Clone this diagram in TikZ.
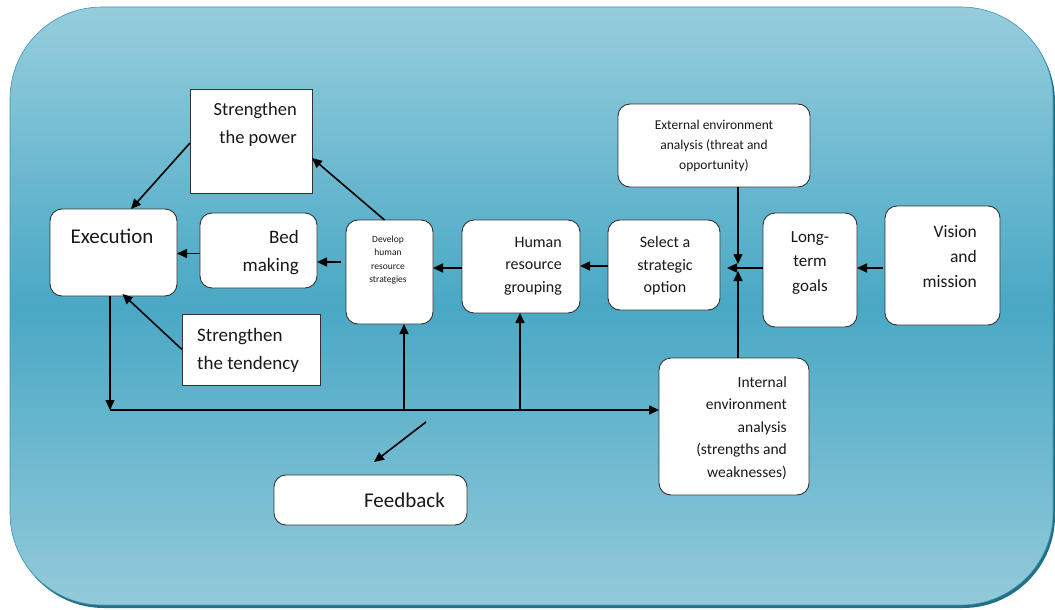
\documentclass[tikz,border=0pt]{standalone}
\usepackage{fontspec}
\setmainfont{Carlito}
\usetikzlibrary{arrows.meta,calc}
\definecolor{bgtop}{RGB}{150,205,221}
\definecolor{bgmid}{RGB}{73,168,197}
\definecolor{bgbot}{RGB}{147,202,218}
\definecolor{bgshadow}{RGB}{34,112,132}
\definecolor{bgedge}{RGB}{60,150,178}
\tikzset{
  rbox/.style={draw=black!80, fill=white, rounded corners=12pt, line width=0.9pt, inner sep=0pt, outer sep=0pt},
  sbox/.style={draw=black!80, fill=white, line width=0.9pt, inner sep=0pt, outer sep=0pt},
  txt/.style={inner sep=0pt, text=black!90},
  arr/.style={line width=1.6pt, -{Triangle[length=10pt,width=9pt]}},
  ln/.style={line width=1.6pt}
}
\begin{document}
\begin{tikzpicture}[x=1pt,y=-1pt]
\useasboundingbox (0,0) rectangle (1055,610);
\fill[white] (0,0) rectangle (1055,610);
% background panel
\fill[bgshadow, rounded corners=92pt] (12,10) rectangle (1055,608);
\shade[top color=bgtop, bottom color=bgbot, middle color=bgmid, rounded corners=92pt, draw=bgedge, line width=0.6pt] (10,7) rectangle (1053,605);

% boxes
\node[sbox, minimum width=122pt, minimum height=104pt] (pow) at (251,141) {};
\node[rbox, minimum width=127pt, minimum height=87pt] (exe) at (113.5,252.5) {};
\node[rbox, minimum width=117pt, minimum height=75pt] (bed) at (258.5,250.5) {};
\node[rbox, minimum width=87pt, minimum height=104pt] (dev) at (389.5,272) {};
\node[rbox, minimum width=118pt, minimum height=93pt] (hum) at (521,266.5) {};
\node[rbox, minimum width=112pt, minimum height=90pt] (sel) at (664,265) {};
\node[rbox, minimum width=192pt, minimum height=83pt] (ext) at (714,145.5) {};
\node[rbox, minimum width=94pt, minimum height=114pt] (lng) at (810,270) {};
\node[rbox, minimum width=115pt, minimum height=119pt] (vis) at (942.5,265.5) {};
\node[sbox, minimum width=138pt, minimum height=71pt] (ten) at (251,349.5) {};
\node[rbox, minimum width=150pt, minimum height=137pt] (int) at (734,426.5) {};
\node[rbox, minimum width=193pt, minimum height=50pt] (fb) at (370.5,500) {};

% texts
\node[txt, anchor=east, align=right, font=\fontsize{18.5}{28}\selectfont] (powt) at (297,125) {Strengthen\\the power};
\node[txt, font=\fontsize{21}{26}\selectfont] (exet) at (112,236) {Execution};
\node[txt, anchor=east, align=right, font=\fontsize{19}{28}\selectfont] (bedt) at (299,253) {Bed\\making};
\node[txt, align=center, font=\fontsize{9.5}{13.6}\selectfont] (devt) at (388,260) {Develop\\human\\resource\\strategies};
\node[txt, anchor=east, align=right, font=\fontsize{16}{22.5}\selectfont] (humt) at (562,266) {Human\\resource\\grouping};
\node[txt, align=center, font=\fontsize{16}{22.5}\selectfont] (selt) at (665,266) {Select a\\strategic\\option};
\node[txt, align=center, font=\fontsize{13.5}{20}\selectfont] (extt) at (714,146) {External environment\\analysis (threat and\\opportunity)};
\node[txt, align=center, font=\fontsize{17}{24.5}\selectfont] (lngt) at (810,263) {Long-\\term\\goals};
\node[txt, anchor=east, align=right, font=\fontsize{17.5}{25}\selectfont] (vist) at (977,257) {Vision\\and\\mission};
\node[txt, anchor=west, align=left, font=\fontsize{19}{28}\selectfont] (tent) at (197,350) {Strengthen\\the tendency};
\node[txt, anchor=east, align=right, font=\fontsize{15.5}{22.5}\selectfont] (intt) at (787,428) {Internal\\environment\\analysis\\(strengths and\\weaknesses)};
\node[txt, font=\fontsize{21}{26}\selectfont] (fbt) at (404.5,500) {Feedback};

% coordinates
\coordinate (jx) at (738,268);
\coordinate (c1) at (110,410);
\coordinate (c2) at (404,410);
\coordinate (c3) at (520,410);
\coordinate (f1) at (426,422);
\coordinate (f2) at (374,462);

% connectors
\draw[arr] ([yshift=-2pt]pow.west) -- ([xshift=17.5pt]exe.north);
\draw[arr] ([xshift=-5pt]dev.north) -- ([yshift=-17pt]pow.east);
\draw[arr] ([yshift=-3pt]bed.west) -- ([yshift=-3pt]bed.west -| exe.east);
\draw[arr] ([yshift=10pt,xshift=-5pt]dev.west) -- ([yshift=10pt]dev.west -| bed.east);
\draw[arr] ([yshift=-1.5pt]hum.west) -- ([yshift=-1.5pt]hum.west -| dev.east);
\draw[arr] ([yshift=-1pt]sel.west) -- ([yshift=-1pt]sel.west -| hum.east);
\draw[arr] (lng.west |- jx) -- ([xshift=-11pt]jx);
\draw[arr] ([xshift=-2pt]vis.west |- jx) -- (lng.east |- jx);
\draw[arr] (ext.south -| jx) -- ([yshift=4pt]jx);
\draw[arr] (int.north -| jx) -- ([yshift=-3pt]jx);
\draw[arr] (ten.west) -- ([xshift=9pt,yshift=2pt]exe.south);
\draw[arr] ([xshift=-3.5pt]exe.south) -- (c1);
\draw[arr] (c1) -- (c1 -| int.west);
\draw[arr] (c2) -- (c2 |- dev.south);
\draw[arr] (c3) -- (c3 |- hum.south);
\draw[arr] (f1) -- (f2);
\end{tikzpicture}
\end{document}
